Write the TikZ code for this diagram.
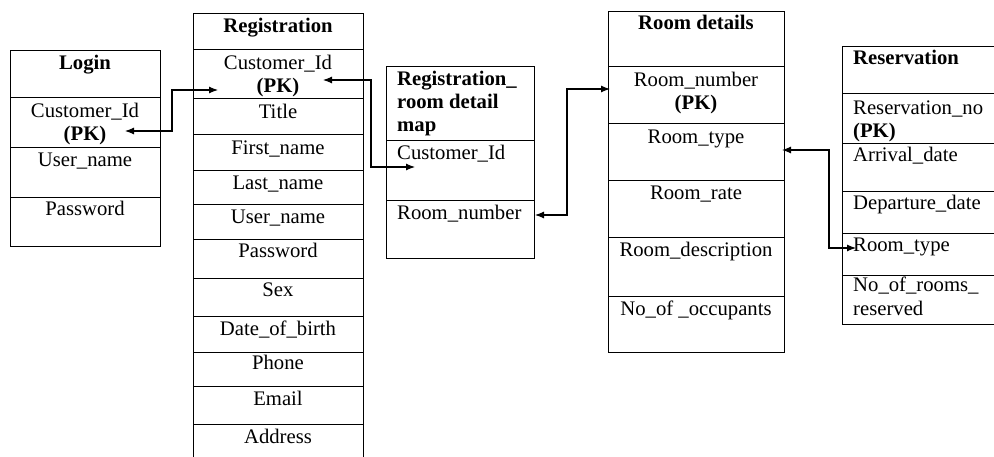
\documentclass[tikz,border=0pt]{standalone}
\usepackage{fontspec}
\setmainfont{Liberation Serif}
\usetikzlibrary{arrows.meta}
\begin{document}
\begin{tikzpicture}[x=1pt,y=-1pt,
  cellst/.style={draw, line width=1.1pt, inner sep=0pt, anchor=north west},
  txt/.style={inner sep=0pt, anchor=base, font=\fontsize{20.7}{23.5}\selectfont},
  ltxt/.style={inner sep=0pt, anchor=base west, font=\fontsize{20.7}{23.5}\selectfont},
  conn/.style={line width=1.1pt, {Latex[length=9pt,width=7pt]}-{Latex[length=9pt,width=7pt]}}]
\useasboundingbox (0,0) rectangle (994,457);
\newcommand\mycell[5]{\node[cellst, minimum width=#3, minimum height=#4] (#1) at (#2,#5) {};}
% ---------- Login ----------
\mycell{lg0}{10}{150}{47}{50}
\mycell{lg1}{10}{150}{50}{97}
\mycell{lg2}{10}{150}{50}{147}
\mycell{lg3}{10}{150}{49}{197}
\node[txt] (lg0t) at (85,70) {\textbf{Login}};
\node[txt] (lg1t) at (85,118) {Customer\_Id};
\node[txt] (lg1p) at (85,141) {\textbf{(PK)}};
\node[txt] (lg2t) at (85,167) {User\_name};
\node[txt] (lg3t) at (85,216) {Password};
% ---------- Registration ----------
\mycell{rg0}{193}{170}{36}{13}
\mycell{rg1}{193}{170}{49}{49}
\mycell{rg2}{193}{170}{36}{98}
\mycell{rg3}{193}{170}{36}{134}
\mycell{rg4}{193}{170}{34}{170}
\mycell{rg5}{193}{170}{35}{204}
\mycell{rg6}{193}{170}{39}{239}
\mycell{rg7}{193}{170}{38}{278}
\mycell{rg8}{193}{170}{36}{316}
\mycell{rg9}{193}{170}{34}{352}
\mycell{rg10}{193}{170}{38}{386}
\mycell{rg11}{193}{170}{50}{424}
\node[txt] (rg0t) at (278,33) {\textbf{Registration}};
\node[txt] (rg1t) at (278,70) {Customer\_Id};
\node[txt] (rg1p) at (278,93) {\textbf{(PK)}};
\node[txt] (rg2t) at (278,119) {Title};
\node[txt] (rg3t) at (278,155) {First\_name};
\node[txt] (rg4t) at (278,190) {Last\_name};
\node[txt] (rg5t) at (278,224) {User\_name};
\node[txt] (rg6t) at (278,258) {Password};
\node[txt] (rg7t) at (278,297) {Sex};
\node[txt] (rg8t) at (278,335) {Date\_of\_birth};
\node[txt] (rg9t) at (278,370) {Phone};
\node[txt] (rg10t) at (278,405) {Email};
\node[txt] (rg11t) at (278,443) {Address};
% ---------- Registration_room detail map ----------
\mycell{mp0}{386}{148}{74}{66}
\mycell{mp1}{386}{148}{60}{140}
\mycell{mp2}{386}{148}{58}{200}
\node[ltxt] (mp0a) at (397,86) {\textbf{Registration\_}};
\node[ltxt] (mp0b) at (397,109) {\textbf{room detail}};
\node[ltxt] (mp0c) at (397,132) {\textbf{map}};
\node[ltxt] (mp1t) at (397,160) {Customer\_Id};
\node[ltxt] (mp2t) at (397,220) {Room\_number};
% ---------- Room details ----------
\mycell{rd0}{608}{176}{55}{11}
\mycell{rd1}{608}{176}{57}{66}
\mycell{rd2}{608}{176}{57}{123}
\mycell{rd3}{608}{176}{57}{180}
\mycell{rd4}{608}{176}{59}{237}
\mycell{rd5}{608}{176}{56}{296}
\node[txt] (rd0t) at (696,30) {\textbf{Room details}};
\node[txt] (rd1t) at (696,87) {Room\_number};
\node[txt] (rd1p) at (696,110) {\textbf{(PK)}};
\node[txt] (rd2t) at (696,144) {Room\_type};
\node[txt] (rd3t) at (696,200) {Room\_rate};
\node[txt] (rd4t) at (696,257) {Room\_description};
\node[txt] (rd5t) at (696,316) {No\_of \_occupants};
% ---------- Reservation ----------
\mycell{rs0}{842}{175}{47}{46}
\mycell{rs1}{842}{175}{50}{93}
\mycell{rs2}{842}{175}{48}{143}
\mycell{rs3}{842}{175}{42}{191}
\mycell{rs4}{842}{175}{42}{233}
\mycell{rs5}{842}{175}{49}{275}
\node[ltxt] (rs0t) at (853,65) {\textbf{Reservation}};
\node[ltxt] (rs1t) at (853,115) {Reservation\_no};
\node[ltxt] (rs1p) at (853,138) {\textbf{(PK)}};
\node[ltxt] (rs2t) at (853,162) {Arrival\_date};
\node[ltxt] (rs3t) at (853,210) {Departure\_date};
\node[ltxt] (rs4t) at (853,252) {Room\_type};
\node[ltxt] (rs5a) at (853,292) {No\_of\_rooms\_};
\node[ltxt] (rs5b) at (853,316) {reserved};
% ---------- connectors ----------
\coordinate (a1s) at (125,131);
\coordinate (a1e) at (218,90);
\draw[conn] (a1s) -- ++(47,0) |- (a1e);
\coordinate (a2s) at (323,80);
\coordinate (a2e) at (415,167);
\draw[conn] (a2s) -- ++(48,0) |- (a2e);
\coordinate (a3s) at (535,215);
\coordinate (a3e) at (610,89);
\draw[conn] (a3s) -- ++(32,0) |- (a3e);
\coordinate (a4s) at (782,150);
\coordinate (a4e) at (856,248);
\draw[conn] (a4s) -- ++(47,0) |- (a4e);
\end{tikzpicture}
\end{document}
